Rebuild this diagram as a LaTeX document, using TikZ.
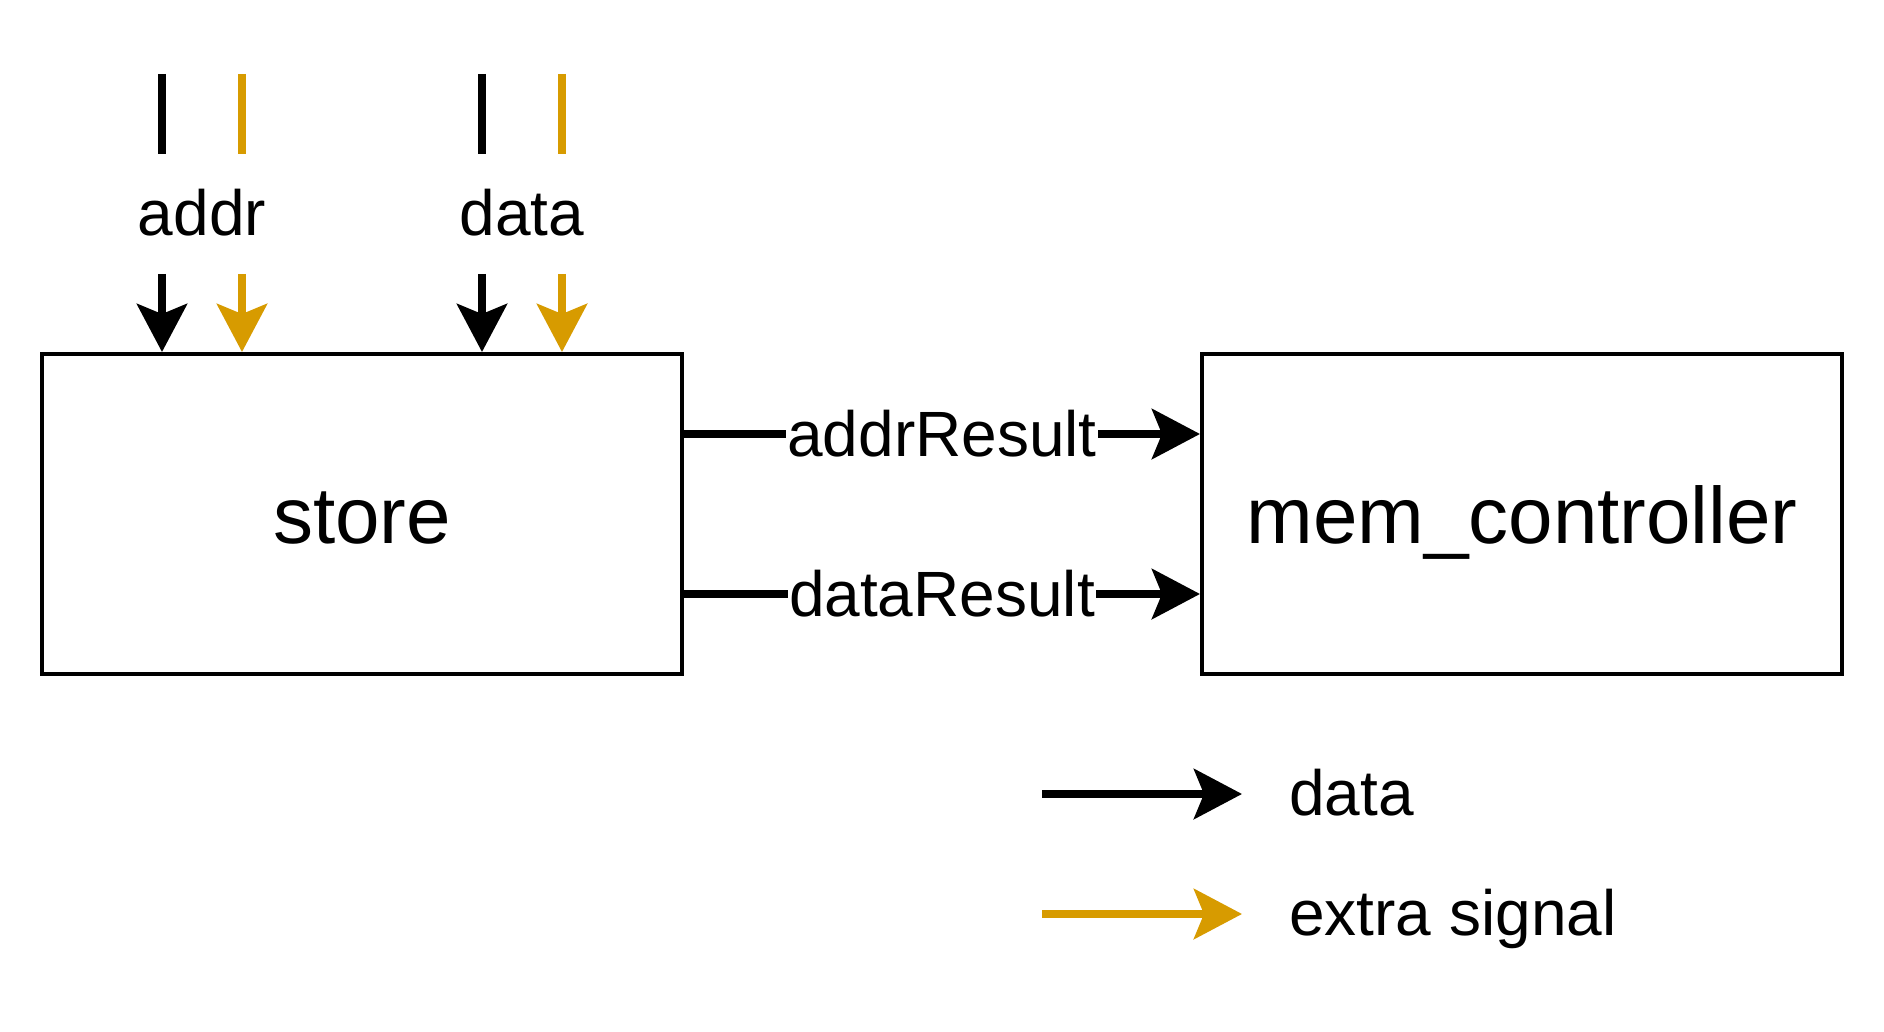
\documentclass[tikz,border=0pt]{standalone}
\usepackage{fontspec}
\setmainfont{Liberation Sans}
\usetikzlibrary{arrows.meta}
\definecolor{sig}{HTML}{D79B00}
\tikzset{
  blk/.style={draw, line width=4pt, minimum width=640pt, minimum height=320pt,
    inner sep=0pt, font=\fontsize{80}{96}\selectfont, text height=58pt, text depth=0pt},
  conn/.style={line width=8pt, -{Stealth[length=48pt,width=50pt,inset=10pt]}},
  plainline/.style={line width=8pt},
  lbl/.style={font=\fontsize{64}{77}\selectfont, inner sep=0pt},
  elbl/.style={font=\fontsize{64}{77}\selectfont, fill=white, inner xsep=1pt, inner ysep=0pt},
}
\begin{document}
\begin{tikzpicture}[x=1pt,y=-1pt]
\useasboundingbox[fill=white] (0,0) rectangle (1884,1032);

% boxes
\node[blk] (store) at (362,514) {store};
\node[blk] (mem) at (1522,514) {mem\_controller};

% top inputs
\coordinate (a1t) at (162,74);  \coordinate (a1b) at (162,154);  \coordinate (a1s) at (162,274);
\coordinate (a2t) at (242,74);  \coordinate (a2b) at (242,154);  \coordinate (a2s) at (242,274);
\coordinate (d1t) at (482,74);  \coordinate (d1b) at (482,154);  \coordinate (d1s) at (482,274);
\coordinate (d2t) at (562,74);  \coordinate (d2b) at (562,154);  \coordinate (d2s) at (562,274);

\draw[plainline] (a1t) -- (a1b);
\draw[plainline, sig] (a2t) -- (a2b);
\draw[plainline] (d1t) -- (d1b);
\draw[plainline, sig] (d2t) -- (d2b);

\draw[conn] (a1s) -- (store.north -| a1s);
\draw[conn, sig] (a2s) -- (store.north -| a2s);
\draw[conn] (d1s) -- (store.north -| d1s);
\draw[conn, sig] (d2s) -- (store.north -| d2s);

\node[lbl, anchor=base] (addrlbl) at (202,236) {addr};
\node[lbl, anchor=base] (datalbl) at (522,236) {data};

% connections between boxes
\coordinate (r1) at (0,434);
\coordinate (r2) at (0,594);
\draw[conn] (store.east |- r1) -- (mem.west |- r1);
\path (store.east |- r1) -- node[elbl] (addrres) {addrResult} (mem.west |- r1);
\draw[conn] (store.east |- r2) -- (mem.west |- r2);
\path (store.east |- r2) -- node[elbl] (datares) {dataResult} (mem.west |- r2);

% legend
\coordinate (l1a) at (1042,794); \coordinate (l1b) at (1242,794);
\coordinate (l2a) at (1042,914); \coordinate (l2b) at (1242,914);
\draw[conn] (l1a) -- (l1b);
\draw[conn, sig] (l2a) -- (l2b);
\node[lbl, anchor=base west] (leg1) at (1289,815) {data};
\node[lbl, anchor=base west] (leg2) at (1289,935) {extra signal};
\end{tikzpicture}
\end{document}
